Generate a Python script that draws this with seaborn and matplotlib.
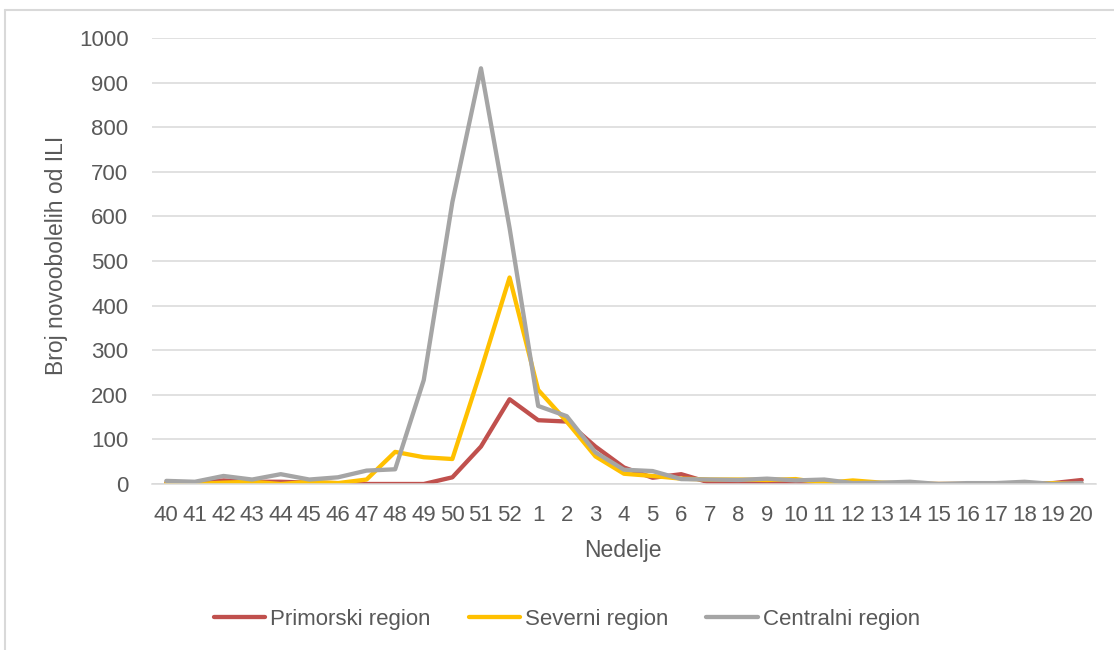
import matplotlib
matplotlib.use("Agg")
import matplotlib.pyplot as plt
from matplotlib.lines import Line2D
import seaborn as sns
import pandas as pd

# Weekly counts of new ILI cases per region (season weeks 40-52, then 1-20)
weeks = [40, 41, 42, 43, 44, 45, 46, 47, 48, 49, 50, 51, 52,
         1, 2, 3, 4, 5, 6, 7, 8, 9, 10, 11, 12, 13, 14, 15, 16, 17, 18, 19, 20]
primorski = [3, 2, 8, 5, 5, 3, 2, 0, 0, 0, 15, 84, 190,
             143, 140, 84, 37, 14, 22, 3, 4, 3, 5, 2, 0, 0, 0, 0, 0, 0, 1, 2, 9]
severni = [2, 0, 3, 5, 0, 5, 2, 10, 72, 60, 56, 255, 463,
           211, 140, 62, 23, 18, 12, 10, 10, 9, 11, 2, 8, 3, 1, 0, 0, 0, 0, 2, 0]
centralni = [7, 5, 18, 10, 22, 10, 15, 30, 33, 233, 632, 932, 574,
             175, 152, 71, 32, 29, 11, 10, 9, 12, 8, 10, 2, 3, 5, 0, 2, 2, 5, 0, 2]

series_names = ["Primorski region", "Severni region", "Centralni region"]
series_colors = ["#C0504D", "#FFC000", "#A5A5A5"]
y_ticks = list(range(0, 1001, 100))

positions = list(range(len(weeks)))
df = pd.concat([
    pd.DataFrame({"pos": positions, "value": vals, "region": name})
    for name, vals in zip(series_names, [primorski, severni, centralni])
], ignore_index=True)

sns.set_theme(style="white")
plt.rcParams["font.family"] = ["Liberation Sans", "DejaVu Sans"]

text_color = "#595959"
grid_color = "#D9D9D9"

fig = plt.figure(figsize=(11.14, 6.5), dpi=100)
ax = fig.add_axes([152 / 1114, 1 - 484 / 650, (1096 - 152) / 1114, (484 - 38) / 650])

sns.lineplot(data=df, x="pos", y="value", hue="region", hue_order=series_names,
             palette=series_colors, linewidth=3.1, ax=ax, legend=False, sort=False)
for line in ax.get_lines():
    line.set_solid_joinstyle("round")
    line.set_solid_capstyle("round")

ax.set_xlim(-0.5, len(weeks) - 0.5)
ax.set_ylim(0, 1000)
ax.set_xticks(positions)
ax.set_xticklabels([str(w) for w in weeks])
ax.set_yticks(y_ticks)
ax.set_yticklabels([str(t) for t in y_ticks])
ax.tick_params(axis="both", length=0, labelsize=16, colors=text_color)
ax.tick_params(axis="y", pad=17)
ax.tick_params(axis="x", pad=15)
ax.yaxis.grid(True, color=grid_color, linewidth=1.1)
ax.xaxis.grid(False)
ax.set_axisbelow(True)
for side in ["top", "right", "left"]:
    ax.spines[side].set_visible(False)
ax.spines["bottom"].set_color(grid_color)
ax.spines["bottom"].set_linewidth(1.1)
ax.set_xlabel("")
ax.set_ylabel("")

fig.text(57 / 1114, 1 - 255 / 650, "Broj novoobolelih od ILI", rotation=90,
         ha="center", va="center", fontsize=16.5, color=text_color)
fig.text(623 / 1114, 1 - 551 / 650, "Nedelje", ha="center", va="center",
         fontsize=16.5, color=text_color)

handles = [Line2D([0], [0], color=c, linewidth=3.1, solid_capstyle="round")
           for c in series_colors]
fig.legend(handles, series_names, loc="center", bbox_to_anchor=(567 / 1114, 1 - 619 / 650),
           ncol=3, frameon=False, fontsize=16, handlelength=2.3, handletextpad=0.25,
           columnspacing=1.7, labelcolor=text_color)

# Light chart-area border along the top and left edges
fig.add_artist(Line2D([5 / 1114, 1.0], [1 - 10 / 650, 1 - 10 / 650],
                      transform=fig.transFigure, color=grid_color, linewidth=1.5))
fig.add_artist(Line2D([5 / 1114, 5 / 1114], [0.0, 1 - 10 / 650],
                      transform=fig.transFigure, color=grid_color, linewidth=1.5))

fig.savefig("out.png", dpi=100)
